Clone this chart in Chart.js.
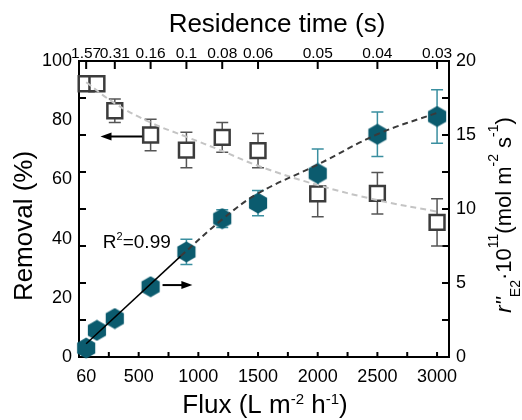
<!DOCTYPE html>
<html>
<head>
<meta charset="utf-8">
<script src="https://cdn.jsdelivr.net/npm/chart.js@4.4.0/dist/chart.umd.min.js"></script>
<style>
  html, body { margin: 0; padding: 0; background: #fff; }
  #chart { display: block; }
</style>
</head>
<body>
<canvas id="chart" width="522" height="420"></canvas>
<script>
// values
const flux = [60, 150, 300, 600, 900, 1200, 1500, 2000, 2500, 3000];
const removal = [92.3, 92.3, 83.2, 75.0, 69.9, 74.2, 69.7, 55.1, 55.3, 45.5];
const removalErr = [1.5, 1.5, 4, 5.3, 6, 5, 5.8, 7.7, 7, 8];
const rate = [0.6, 1.8, 2.6, 4.75, 7.1, 9.35, 10.4, 12.4, 15.05, 16.25];
const rateErr = [0.2, 0.2, 0.2, 0.3, 0.85, 0.6, 0.85, 1.65, 1.5, 1.8];

// fitted curves
const removalFitFlux = [60, 300, 600, 900, 1200, 1500, 2000, 2500, 3000];
const removalFit = [92.8, 85.7, 79.2, 74.4, 69.6, 64.6, 58.1, 53.0, 49.1];
const rateFitFlux = [850, 1200, 1500, 2000, 2500, 3000];
const rateFit = [6.8, 9.3, 11.05, 13.0, 15.05, 16.5];
const linFitFlux = [60, 850];
const linFit = [0.9, 6.8];

// axes
const fluxTicks = [60, 500, 1000, 1500, 2000, 2500, 3000];
const fluxMarks = [250, 500, 750, 1000, 1250, 1500, 1750, 2000, 2250, 2500, 2750, 3000];
const residenceFlux = [60, 300, 600, 900, 1200, 1500, 2000, 2500, 3000];
const residenceLabels = ['1.57', '0.31', '0.16', '0.1', '0.08', '0.06', '0.05', '0.04', '0.03'];
const removalTicks = [0, 20, 40, 60, 80, 100];
const removalMarks = [12.5, 25, 37.5, 50, 62.5, 75, 87.5];
const rateTicks = [0, 5, 10, 15, 20];
const rateMarks = [2.5, 5, 7.5, 10, 12.5, 15, 17.5];

const FONT = 'Liberation Sans, Arial, sans-serif';
Chart.defaults.font.family = FONT;
Chart.defaults.color = '#000';

const teal = '#0b5b6e';

// hexagon marker
const hexagon = document.createElement('canvas');
hexagon.width = 22;
hexagon.height = 22;
const hctx = hexagon.getContext('2d');
hctx.fillStyle = teal;
hctx.beginPath();
for (let i = 0; i < 6; i++) {
  const a = Math.PI / 2 + i * Math.PI / 3;
  const px = 11 + 10.5 * Math.cos(a);
  const py = 11 - 10.5 * Math.sin(a);
  if (i === 0) hctx.moveTo(px, py); else hctx.lineTo(px, py);
}
hctx.closePath();
hctx.fill();

function pts(xs, ys) {
  return xs.map((v, i) => ({ x: v, y: ys[i] }));
}

// frame + inward tick marks
const frame = {
  id: 'frame',
  beforeDatasetsDraw(chart) {
    const { ctx, chartArea: a, scales } = chart;
    ctx.save();
    ctx.strokeStyle = '#000';
    ctx.lineWidth = 2;
    ctx.strokeRect(a.left, a.top, a.right - a.left, a.bottom - a.top);
    ctx.beginPath();
    fluxMarks.forEach(v => {
      const px = scales.x.getPixelForValue(v);
      ctx.moveTo(px, a.bottom); ctx.lineTo(px, a.bottom - 5);
    });
    residenceFlux.forEach(v => {
      const px = scales.x.getPixelForValue(v);
      ctx.moveTo(px, a.top); ctx.lineTo(px, a.top + 8);
    });
    removalMarks.forEach(v => {
      const py = scales.y.getPixelForValue(v);
      ctx.moveTo(a.left, py); ctx.lineTo(a.left + 7, py);
    });
    rateMarks.forEach(v => {
      const py = scales.y2.getPixelForValue(v);
      ctx.moveTo(a.right, py); ctx.lineTo(a.right - 7, py);
    });
    ctx.stroke();
    ctx.restore();
  }
};

// error bars
const errorBars = {
  id: 'errorBars',
  beforeDatasetsDraw(chart) {
    const { ctx, scales } = chart;
    const draw = (vals, errs, scale, color) => {
      ctx.strokeStyle = color;
      ctx.lineWidth = 1.5;
      ctx.beginPath();
      flux.forEach((f, i) => {
        const px = scales.x.getPixelForValue(f);
        const t = scale.getPixelForValue(vals[i] + errs[i]);
        const b = scale.getPixelForValue(vals[i] - errs[i]);
        ctx.moveTo(px, t); ctx.lineTo(px, b);
        ctx.moveTo(px - 6, t); ctx.lineTo(px + 6, t);
        ctx.moveTo(px - 6, b); ctx.lineTo(px + 6, b);
      });
      ctx.stroke();
    };
    ctx.save();
    draw(removal, removalErr, scales.y, '#555');
    draw(rate, rateErr, scales.y2, '#3a8fa0');
    ctx.restore();
  }
};

// text with super/subscripts: [text, size, shift, italic]
function drawRich(ctx, parts, cx, cy, angle) {
  ctx.save();
  ctx.translate(cx, cy);
  ctx.rotate(angle);
  ctx.fillStyle = '#000';
  ctx.textAlign = 'left';
  ctx.textBaseline = 'alphabetic';
  const fontOf = p => (p[3] ? 'italic ' : '') + p[1] + 'px ' + FONT;
  let total = 0;
  parts.forEach(p => { ctx.font = fontOf(p); total += ctx.measureText(p[0]).width; });
  let pos = -total / 2;
  parts.forEach(p => {
    ctx.font = fontOf(p);
    ctx.fillText(p[0], pos, -p[2]);
    pos += ctx.measureText(p[0]).width;
  });
  ctx.restore();
}

function arrow(ctx, x1, y1, x2, y2) {
  const dir = Math.sign(x2 - x1);
  ctx.beginPath();
  ctx.moveTo(x1, y1); ctx.lineTo(x2 - dir * 8, y2);
  ctx.stroke();
  ctx.beginPath();
  ctx.moveTo(x2, y2);
  ctx.lineTo(x2 - dir * 11, y2 - 4);
  ctx.lineTo(x2 - dir * 11, y2 + 4);
  ctx.closePath();
  ctx.fill();
}

const notes = {
  id: 'notes',
  afterDraw(chart) {
    const { ctx, scales } = chart;
    const { x, y, y2 } = scales;
    ctx.save();
    ctx.strokeStyle = '#000';
    ctx.fillStyle = '#000';
    ctx.lineWidth = 2;
    arrow(ctx, x.getPixelForValue(530), y.getPixelForValue(74.5), x.getPixelForValue(180), y.getPixelForValue(74.5));
    arrow(ctx, x.getPixelForValue(700), y2.getPixelForValue(4.86), x.getPixelForValue(950), y2.getPixelForValue(4.86));

    // R^2 label
    ctx.textAlign = 'left';
    ctx.textBaseline = 'alphabetic';
    let px = x.getPixelForValue(200);
    const py = y2.getPixelForValue(7.36);
    ctx.font = '19px ' + FONT;
    ctx.fillText('R', px, py);
    px += ctx.measureText('R').width;
    ctx.font = '11px ' + FONT;
    ctx.fillText('2', px, py - 8);
    px += ctx.measureText('2').width;
    ctx.font = '19px ' + FONT;
    ctx.fillText('=0.99', px, py);
    ctx.restore();

    // axis titles
    drawRich(ctx, [['Residence time (s)', 26, 0]], 277, 32, 0);
    drawRich(ctx, [['Removal (%)', 26, 0]], 32, 226, -Math.PI / 2);
    drawRich(ctx, [['Flux (L m', 26, 0], ['-2', 15, 9], [' h', 26, 0], ['-1', 15, 9], [')', 26, 0]], 265, 413, 0);
    drawRich(ctx, [
      ['r', 22, 0, true], ['\'\'', 22, 0, true], ['E2', 14, -9],
      ['\u00b710', 22, 0], ['11', 14, 13],
      ['(mol m', 22, 0], ['-2', 14, 13], [' s', 22, 0], ['-1', 14, 13], [')', 22, 0]
    ], 511, 215, -Math.PI / 2);
  }
};

const tickFont = { size: 18, family: FONT };
const noGrid = { display: false, drawTicks: false };

new Chart(document.getElementById('chart'), {
  type: 'scatter',
  data: {
    datasets: [
      {
        label: 'Linear fit',
        type: 'line',
        data: pts(linFitFlux, linFit),
        yAxisID: 'y2',
        borderColor: '#000',
        borderWidth: 1.5,
        pointRadius: 0,
        order: 0
      },
      {
        label: 'Rate fit',
        type: 'line',
        data: pts(rateFitFlux, rateFit),
        yAxisID: 'y2',
        borderColor: '#3a3a3a',
        borderWidth: 2,
        borderDash: [6, 4],
        tension: 0.4,
        pointRadius: 0,
        order: 1
      },
      {
        label: 'Removal fit',
        type: 'line',
        data: pts(removalFitFlux, removalFit),
        yAxisID: 'y',
        borderColor: '#c4c4c4',
        borderWidth: 2,
        borderDash: [6, 4],
        tension: 0.4,
        pointRadius: 0,
        order: 2
      },
      {
        label: 'Rate',
        data: pts(flux, rate),
        yAxisID: 'y2',
        pointStyle: hexagon,
        pointRadius: 11,
        clip: false,
        order: 3
      },
      {
        label: 'Removal',
        data: pts(flux, removal),
        yAxisID: 'y',
        pointStyle: 'rect',
        pointRadius: 10.5,
        pointBorderWidth: 2.5,
        pointBorderColor: '#3c3c3c',
        pointBackgroundColor: '#fff',
        clip: false,
        order: 4
      }
    ]
  },
  options: {
    responsive: false,
    animation: false,
    layout: { padding: 0 },
    plugins: { legend: { display: false }, tooltip: { enabled: false } },
    scales: {
      x: {
        type: 'linear', position: 'bottom', min: 0, max: 3100,
        afterBuildTicks: s => { s.ticks = fluxTicks.map(v => ({ value: v })); },
        afterFit: s => { s.height = 63; },
        grid: noGrid, border: { display: false },
        ticks: { font: tickFont, padding: 9, maxRotation: 0, autoSkip: false, callback: v => String(v) }
      },
      x2: {
        type: 'linear', position: 'top', min: 0, max: 3100,
        afterBuildTicks: s => { s.ticks = residenceFlux.map(v => ({ value: v })); },
        afterFit: s => { s.height = 61; },
        grid: noGrid, border: { display: false },
        ticks: {
          font: { size: 15.5, family: FONT }, padding: -2, maxRotation: 0, autoSkip: false,
          callback: (v, i) => residenceLabels[i]
        }
      },
      y: {
        type: 'linear', position: 'left', min: 0, max: 100,
        afterBuildTicks: s => { s.ticks = removalTicks.map(v => ({ value: v })); },
        afterFit: s => { s.width = 79; },
        grid: noGrid, border: { display: false },
        ticks: { font: tickFont, padding: 7 }
      },
      y2: {
        type: 'linear', position: 'right', min: 0, max: 20,
        afterBuildTicks: s => { s.ticks = rateTicks.map(v => ({ value: v })); },
        afterFit: s => { s.width = 73; },
        grid: noGrid, border: { display: false },
        ticks: { font: tickFont, padding: 7 }
      }
    }
  },
  plugins: [frame, errorBars, notes]
});
</script>
</body>
</html>
